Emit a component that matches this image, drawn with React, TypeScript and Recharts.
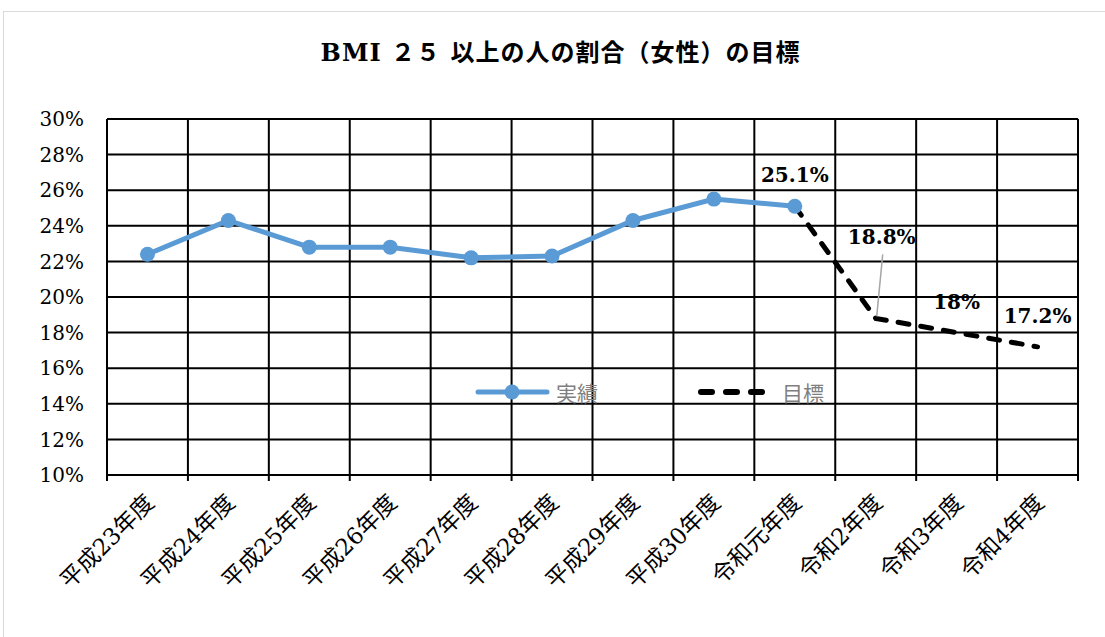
import { LineChart, Line, XAxis, YAxis, CartesianGrid, Legend, LabelList } from 'recharts';

const categories = [
  '平成23年度', '平成24年度', '平成25年度', '平成26年度', '平成27年度', '平成28年度',
  '平成29年度', '平成30年度', '令和元年度', '令和2年度', '令和3年度', '令和4年度',
];
const actual = [22.4, 24.3, 22.8, 22.8, 22.2, 22.3, 24.3, 25.5, 25.1, null, null, null];
const target = [null, null, null, null, null, null, null, null, 25.1, 18.8, 18, 17.2];
const yTicks = [10, 12, 14, 16, 18, 20, 22, 24, 26, 28, 30];

const W = 1105;
const H = 637;
const MARGIN = { top: 119, right: 27, left: 37, bottom: 0 };
const Y_AXIS_W = 70;
const BAND = (W - MARGIN.left - MARGIN.right - Y_AXIS_W) / categories.length;

const SERIF = '"DejaVu Serif", "Noto Sans CJK JP", serif';
const BLUE = '#5B9BD5';

const data = categories.map((name, i) => ({
  x: i + 0.5,
  name,
  actual: actual[i],
  target: target[i],
}));

function CategoryTick({ x, y, payload }: any) {
  const label = categories[payload.value];
  if (!label) return <g />;
  const cx = x + BAND / 2 + 8;
  const cy = y + 21;
  return (
    <text
      x={cx}
      y={cy}
      textAnchor="end"
      transform={`rotate(-45 ${cx} ${cy})`}
      fontFamily={SERIF}
      fontSize={23}
      fill="#000"
    >
      {label}
    </text>
  );
}

function TargetLabel({ x, y, value, index }: any) {
  if (value == null) return null;
  // 18.8% label sits up-right of its point, with a leader line
  if (index === 9) {
    return (
      <g>
        <line x1={x + 1} y1={y - 2} x2={x + 7} y2={y - 64} stroke="#a6a6a6" strokeWidth={1.5} />
        <text x={x + 6} y={y - 74} textAnchor="middle" fontFamily={SERIF} fontWeight="bold" fontSize={20} fill="#000">
          {`${value}%`}
        </text>
      </g>
    );
  }
  return (
    <text x={x} y={y - 24} textAnchor="middle" fontFamily={SERIF} fontWeight="bold" fontSize={20} fill="#000">
      {`${value}%`}
    </text>
  );
}

function LegendContent() {
  return (
    <div style={{ display: 'flex', alignItems: 'center', fontFamily: '"Noto Sans CJK JP", sans-serif', fontSize: 21, color: '#7f7f7f' }}>
      <svg width={77} height={20}>
        <line x1={4} y1={10} x2={73} y2={10} stroke={BLUE} strokeWidth={5} strokeLinecap="round" />
        <circle cx={38} cy={10} r={7.5} fill={BLUE} />
      </svg>
      <span style={{ marginLeft: 5 }}>実績</span>
      <svg width={70} height={20} style={{ marginLeft: 99 }}>
        <line x1={4} y1={10} x2={66} y2={10} stroke="#000" strokeWidth={6} strokeLinecap="round" strokeDasharray="11 14" />
      </svg>
      <span style={{ marginLeft: 15 }}>目標</span>
    </div>
  );
}

export default function App() {
  return (
    <div style={{ position: 'absolute', left: 0, top: 0, width: W, height: H, background: '#fff', overflow: 'hidden' }}>
      <div style={{ position: 'absolute', left: 3, top: 11, width: W, height: H, border: '1.5px solid #d9d9d9' }} />
      <div
        style={{
          position: 'absolute', left: 8, top: 33, width: W, textAlign: 'center',
          fontFamily: SERIF, fontWeight: 'bold', fontSize: 24, letterSpacing: 1, color: '#000',
        }}
      >
        BMI ２５ 以上の人の割合（女性）の目標
      </div>
      <div style={{ position: 'absolute', left: 0, top: 0 }}>
        <LineChart width={W} height={H} data={data} margin={MARGIN}>
          <CartesianGrid stroke="#000" strokeWidth={2} />
          <XAxis
            dataKey="x"
            type="number"
            domain={[0, categories.length]}
            ticks={categories.map((_, i) => i).concat(categories.length)}
            interval={0}
            height={162}
            tickSize={6}
            axisLine={{ stroke: '#000', strokeWidth: 2 }}
            tickLine={{ stroke: '#000', strokeWidth: 2 }}
            tick={<CategoryTick />}
          />
          <YAxis
            domain={[10, 30]}
            ticks={yTicks}
            width={Y_AXIS_W}
            tickFormatter={(v) => `${v}%`}
            axisLine={{ stroke: '#000', strokeWidth: 2 }}
            tickLine={false}
            tickSize={0}
            tickMargin={23}
            tick={{ fill: '#000', fontFamily: SERIF, fontSize: 20 }}
          />
          <Legend
            content={<LegendContent />}
            wrapperStyle={{ position: 'absolute', top: 377, left: 474, width: 420, height: 0, bottom: 'auto', overflow: 'visible' }}
          />
          <Line
            dataKey="actual"
            name="実績"
            stroke={BLUE}
            strokeWidth={5}
            dot={{ r: 7.5, fill: BLUE, stroke: BLUE, strokeWidth: 0 }}
            activeDot={false}
            isAnimationActive={false}
          />
          <Line
            dataKey="target"
            name="目標"
            stroke="#000"
            strokeWidth={5}
            strokeDasharray="11 12"
            strokeLinecap="round"
            dot={false}
            activeDot={false}
            isAnimationActive={false}
          >
            <LabelList dataKey="target" content={<TargetLabel />} />
          </Line>
        </LineChart>
      </div>
    </div>
  );
}
